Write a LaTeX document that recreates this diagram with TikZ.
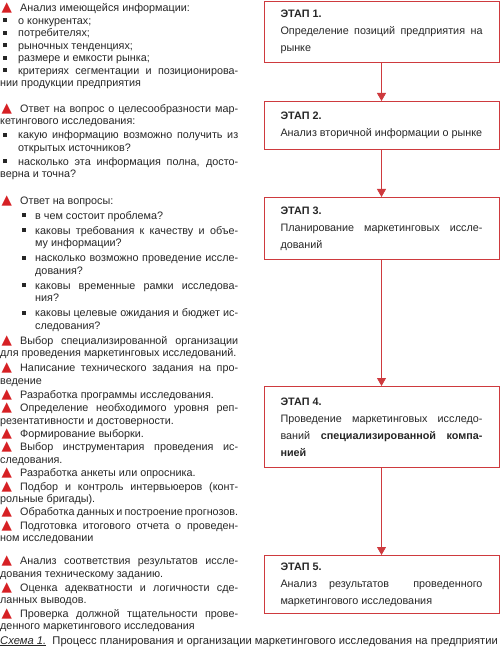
\documentclass[tikz,border=0pt]{standalone}
\usepackage{fontspec}
\setmainfont{Liberation Sans}
\newfontfamily\symfont{DejaVu Sans}
\usetikzlibrary{arrows.meta}

\definecolor{boxred}{RGB}{206,58,62}
\definecolor{mkred}{RGB}{214,32,36}

% markers of the left column
\newcommand\mk{\makebox[20pt][l]{\hspace{1.5pt}\raisebox{0pt}[0pt][0pt]{\textcolor{mkred}{\fontsize{13.5}{13.5}\symfont ▲}}}}
\newcommand\tri{\par\noindent\mk}
\newcommand\itm{\par\noindent\hangindent=18pt\hangafter=1\makebox[18pt][l]{\hspace{3pt}\rule[2pt]{4pt}{4pt}}}
\newcommand\subitm{\par\noindent\hangindent=35pt\hangafter=1\makebox[35pt][l]{\hspace{22pt}\rule[2pt]{4pt}{4pt}}}

\begin{document}
\begin{tikzpicture}[
    x=1pt, y=1pt,
    stagebox/.style={
        draw=boxred,
        line width=1pt,
        text width=202pt,
        inner xsep=16.5pt,
        align=justify,
        anchor=north,
        font=\fontsize{10.8}{17}\selectfont,
        text=black!85
    },
    notes/.style={
        anchor=north west,
        text width=238pt,
        inner sep=0pt,
        align=justify,
        font=\fontsize{10.8}{12.5}\selectfont,
        text=black!85,
        execute at begin node={\setlength{\parskip}{#1}\tolerance=10000}
    },
    notes/.default=0.8pt,
    flow/.style={
        -{Triangle[width=9pt,length=8pt]},
        line width=0.8pt,
        draw=boxred
    }
]
    \useasboundingbox (0,0) rectangle (500,-652);

    \foreach \n/\top/\h/\txt in {
        1/1/61/{\textbf{ЭТАП 1.}\\Определение позиций предприятия на\linebreak рынке},
        2/101/48/{\textbf{ЭТАП 2.}\\Анализ вторичной информации о рынке},
        3/197/62/{\textbf{ЭТАП 3.}\\Планирование маркетинговых иссле-\linebreak дований},
        4/386/81/{\textbf{ЭТАП 4.}\\Проведение маркетинговых исследо-\linebreak ваний \textbf{специализированной компа-\linebreak нией}},
        5/555/58/{\textbf{ЭТАП 5.}\\Анализ результатов \ проведенного\linebreak маркетингового исследования}
    }{
        \node[stagebox, minimum height=\h pt] (s\n) at (381.5,-\top) {\txt};
    }

    \foreach \a/\b in {1/2,2/3,3/4,4/5}{
        \draw[flow] (s\a) -- (s\b);
    }

    \node[notes=0pt] (gInfo) at (0,1) {
        \tri Анализ имеющейся информации:
        \itm о конкурентах;
        \itm потребителях;
        \itm рыночных тенденциях;
        \itm размере и емкости рынка;
        \itm критериях сегментации и позиционирова-\linebreak нии продукции предприятия
    };

    \node[notes=1.6pt] (gSource) at (0,-98) {
        \tri Ответ на вопрос о целесообразности мар-\linebreak кетингового исследования:
        \itm какую информацию возможно получить из\linebreak открытых источников?
        \itm насколько эта информация полна, досто-\linebreak верна и точна?
    };

    \node[notes=2.5pt] (gPlan) at (0,-189) {
        \tri Ответ на вопросы:
        \subitm в чем состоит проблема?
        \subitm каковы требования к качеству и объе-\linebreak му информации?
        \subitm насколько возможно проведение иссле-\linebreak дования?
        \subitm каковы временные рамки исследова-\linebreak ния?
        \subitm каковы целевые ожидания и бюджет ис-\linebreak следования?
        \tri Выбор специализированной организации\linebreak для проведения маркетинговых исследований.
        \tri Написание технического задания на про-\linebreak ведение
    };

    \node[notes] (gWork) at (0,-385) {
        \tri Разработка программы исследования.
        \tri Определение необходимого уровня реп-\linebreak резентативности и достоверности.
        \tri Формирование выборки.
        \tri Выбор инструментария проведения ис-\linebreak следования.
        \tri Разработка анкеты или опросника.
        \tri Подбор и контроль интервьюеров (конт-\linebreak рольные бригады).
        \tri Обработка данных и построение прогнозов.
        \tri Подготовка итогового отчета о проведен-\linebreak ном исследовании
    };

    \node[notes=1.2pt] (gCheck) at (0,-551) {
        \tri Анализ соответствия результатов иссле-\linebreak дования техническому заданию.
        \tri Оценка адекватности и логичности сде-\linebreak ланных выводов.
        \tri Проверка должной тщательности прове-\linebreak денного маркетингового исследования
    };

    \node[anchor=base west, inner sep=0pt, font=\fontsize{11.2}{13}\selectfont, text=black!85] (cap) at (0,-644)
        {\underline{\textit{Схема 1.}}\ \ Процесс планирования и организации маркетингового исследования на предприятии};

\end{tikzpicture}
\end{document}
